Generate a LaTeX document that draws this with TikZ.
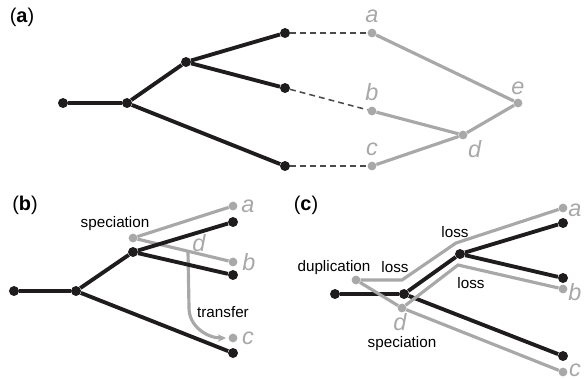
\documentclass[tikz,border=0pt]{standalone}
\usepackage{fontspec}
\setmainfont{Liberation Sans}
\usetikzlibrary{arrows.meta}
\definecolor{treeblack}{HTML}{1E1C1D}
\definecolor{genegray}{HTML}{A8A8A8}
\definecolor{dashgray}{HTML}{4A4A4A}
\begin{document}
\begin{tikzpicture}[x=0.03cm, y=-0.03cm,
	bdot/.style={circle, fill=treeblack, inner sep=0pt, minimum size=8.5pt},
	gdot/.style={circle, fill=genegray, inner sep=0pt, minimum size=7.5pt},
	bline/.style={treeblack, line width=3.3pt},
	gline/.style={genegray, line width=2.7pt},
	dline/.style={dashgray, line width=1.3pt, dash pattern=on 5pt off 3.5pt},
	leaf/.style={genegray, font=\fontsize{20}{22}\selectfont\itshape, inner sep=0pt},
	txt/.style={black, font=\fontsize{13}{15}\selectfont, inner sep=0pt},
	panel/.style={black, font=\fontsize{17}{19}\selectfont, inner sep=0pt}]
	\useasboundingbox (0,0) rectangle (585,378);
	
	% (a)
	\node[panel] (pa) at (22,17) {(\textbf{a})};
	\node (1) at (63,103) [bdot]{};
	\node (2) at (127,103) [bdot]{};
	\node (3) at (186,62) [bdot]{};
	\node (4) at (285,33) [bdot]{};
	\node (5) at (285,88) [bdot]{};
	\node (6) at (285,166) [bdot]{};
	\node (7) at (372,33) [gdot, label={[leaf, yshift=0.15cm]above:a}]{};
	\node (8) at (372,111) [gdot, label={[leaf, yshift=0.15cm]above:b}]{};
	\node (9) at (372,166) [gdot, label={[leaf, yshift=0.15cm]above:c}]{};
	\node (10) at (463,135) [gdot, label={[leaf, xshift=0.05cm, yshift=-0.05cm]below right:d}]{};
	\node (11) at (518,103) [gdot, label={[leaf, yshift=0.1cm]above:e}]{};
	
	\draw[bline] (1) to (2);
	\draw[bline] (2) to (3);
	\draw[bline] (2) to (6);
	\draw[bline] (3) to (4);
	\draw[bline] (3) to (5);
	\draw[dline] (4) -- (7);
	\draw[dline] (5) -- (8);
	\draw[dline] (6) -- (9);
	\draw[gline] (7) to (11);
	\draw[gline] (8) to (10);
	\draw[gline] (9) to (10);
	\draw[gline] (10) to (11);
	
	% (b)
	\node[panel] (pb) at (25,205) {(\textbf{b})};
	\node (18) at (133,238) [gdot]{};
	\node (19) at (233,206) [gdot]{};
	\node (20) at (233,262) [gdot]{};
	\node (21) at (233,338) [gdot]{};
	\coordinate (bd) at (188,251);
	\coordinate (bt) at (189,308);
	\coordinate (bc) at (226,338);
	\draw[gline] (18) to (19);
	\draw[gline] (18) to (20);
	\draw[gline, -{Stealth[length=7pt, width=6.5pt]}] (bd) -- (bt) to [out=270,in=180] (bc);
	
	\node (12) at (14,291) [bdot]{};
	\node (13) at (76,291) [bdot]{};
	\node (14) at (133,252) [bdot]{};
	\node (15) at (233,222) [bdot]{};
	\node (16) at (233,275) [bdot]{};
	\node (17) at (233,353) [bdot]{};
	\draw[bline] (12) to (13);
	\draw[bline] (13) to (14);
	\draw[bline] (13) to (17);
	\draw[bline] (14) to (15);
	\draw[bline] (14) to (16);
	
	\node[txt] (spb) at (115,224) {speciation};
	\node[leaf] (ldb) at (199,243) {d};
	\node[leaf] (lab) at (248,206) {a};
	\node[leaf] (lbb) at (249,262) {b};
	\node[leaf] (lcb) at (248,338) {c};
	\node[txt] (trb) at (223,312) {transfer};
	
	% (c)
	\node[panel] (pc) at (306,205) {(\textbf{c})};
	\node (22) at (335,294) [bdot]{};
	\node (23) at (404,294) [bdot]{};
	\node (24) at (460,254) [bdot]{};
	\node (25) at (563,223) [bdot]{};
	\node (26) at (563,278) [bdot]{};
	\node (27) at (563,356) [bdot]{};
	\draw[bline] (22) to (23);
	\draw[bline] (23) to (24);
	\draw[bline] (23) to (27);
	\draw[bline] (24) to (25);
	\draw[bline] (24) to (26);
	
	\node (28) at (356,280) [gdot]{};
	\node (29) at (402,308) [gdot]{};
	\node (30) at (563,208) [gdot]{};
	\node (31) at (563,289) [gdot]{};
	\node (32) at (563,372) [gdot]{};
	\coordinate (u1) at (402,280);
	\coordinate (u2) at (456,243);
	\coordinate (v1) at (458,265);
	\draw[gline] (28) -- (u1) -- (u2) -- (30);
	\draw[gline] (28) to (29);
	\draw[gline] (29) -- (v1) -- (31);
	\draw[gline] (29) to (32);
	
	\node[txt] (dupc) at (334,268) {duplication};
	\node[txt] (lo1) at (395,267) {loss};
	\node[txt] (lo2) at (455,232) {loss};
	\node[txt] (lo3) at (471,283) {loss};
	\node[leaf] (ldc) at (400,322) {d};
	\node[txt] (spc) at (402,344) {speciation};
	\node[leaf] (lac) at (575,210) {a};
	\node[leaf] (lbc) at (575,292) {b};
	\node[leaf] (lcc) at (575,370) {c};
	
	\end{tikzpicture}
\end{document}
